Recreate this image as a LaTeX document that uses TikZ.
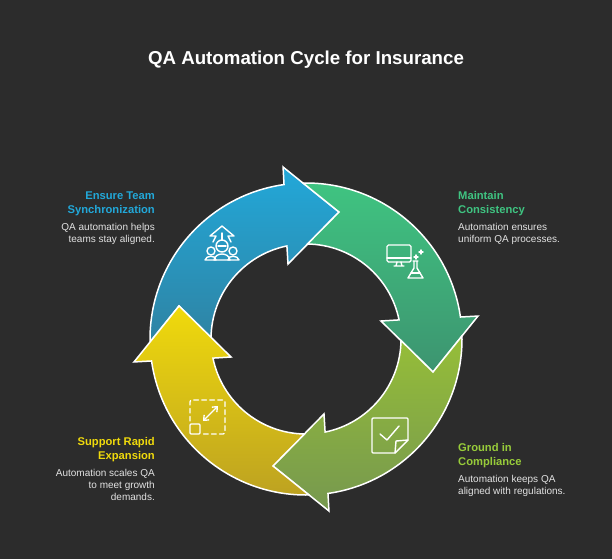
\documentclass[tikz,border=0pt]{standalone}
\usepackage{fontspec}
\setmainfont{Liberation Sans}
\usepackage{tikz}
\usetikzlibrary{positioning,arrows.meta}
\definecolor{bgdark}{HTML}{2C2C2C}
\definecolor{blueTop}{HTML}{22A8D9}
\definecolor{blueBot}{HTML}{2F83A3}
\definecolor{greenTop}{HTML}{3FC481}
\definecolor{greenBot}{HTML}{3D9470}
\definecolor{limeTop}{HTML}{96BE38}
\definecolor{limeBot}{HTML}{76984F}
\definecolor{limeText}{HTML}{98CC3A}
\definecolor{yellowTop}{HTML}{F0DA0C}
\definecolor{yellowBot}{HTML}{BDA221}
\definecolor{bodygray}{HTML}{E2E2E2}
\tikzset{
  ringarrow/.style={draw=white, line width=1.5pt, miter limit=10},
  headtext/.style={font=\bfseries\fontsize{11.2}{14}\selectfont, align=#1, inner sep=0pt},
  bodytext/.style={font=\fontsize{10}{12.2}\selectfont, align=#1, inner sep=0pt, text=bodygray},
  icon/.style={draw=white, line width=1.4pt, line cap=round, line join=round}
}
% one arrow of the ring, turned by #1 degrees
\newcommand{\ringpiece}[3]{
  \draw[ringarrow, top color=#2, bottom color=#3]
    ({#1+98.1}:156) -- ({#1+97.6}:173.5) -- ({#1+75.4}:131.2) -- ({#1+103.5}:77.1)
    -- ({#1+101.6}:95) arc[start angle={#1+101.6}, end angle={#1+179.1}, radius=95]
    -- ({#1+165.4}:131.2) -- ({#1+181.1}:156)
    arc[start angle={#1+181.1}, end angle={#1+98.1}, radius=156] -- cycle;
}
\begin{document}
\begin{tikzpicture}[x=1pt, y=-1pt]
    \fill[bgdark] (0,0) rectangle (612,559);
    \useasboundingbox (0,0) rectangle (612,559);

    \node[text=white, font=\bfseries\fontsize{18.7}{22}\selectfont] (mainTitle) at (306,60) {QA Automation Cycle for Insurance};

    % ring
    \begin{scope}[shift={(306,339)}, x=1pt, y=1pt]
        \ringpiece{0}{blueTop}{blueBot}
        \ringpiece{-90}{greenTop}{greenBot}
        \ringpiece{-180}{limeTop}{limeBot}
        \ringpiece{-270}{yellowTop}{yellowBot}
    \end{scope}

    % team icon
    \draw[icon] (222,226) -- (210,236) -- (216,236) -- (213,242) (222,226) -- (234,236) -- (228,236) -- (231,242);
    \draw[icon] (222,233) -- (222,240);
    \draw[icon] (222,246) circle (6);
    \draw[icon] (218,246) -- (226,246);
    \draw[icon] (211,251) circle (4);
    \draw[icon] (233,251) circle (4);
    \draw[icon] (205,260) .. controls (206,255) and (216,255) .. (216,260) -- (205,260);
    \draw[icon] (239,260) .. controls (238,255) and (228,255) .. (228,260) -- (239,260);
    \draw[icon] (214,260) .. controls (215,252) and (229,252) .. (230,260) -- (214,260);

    % monitor and flask icon
    \draw[icon, rounded corners=1.5pt] (387,245) rectangle (411,262);
    \draw[icon] (387,258) -- (411,258);
    \draw[icon] (397,262) -- (396,266) (401,262) -- (402,266) (394,266) -- (404,266);
    \draw[icon] (413,261) -- (418,261) (414,261) -- (414,268) -- (408,278) -- (423,278) -- (417,268) -- (417,261);
    \draw[icon] (411,273) -- (420,273);
    \draw[icon] (416,255) -- (416,259) (414,257) -- (418,257);
    \draw[icon] (421,250) -- (421,254) (419,252) -- (423,252);

    % checked note icon
    \draw[icon] (395,453) -- (373,453) -- (372,452) -- (372,419) -- (373,418) -- (407,418) -- (408,419) -- (408,440) -- cycle;
    \draw[icon] (408,440) -- (396,441) -- (395,453);
    \draw[icon] (380,434) -- (387,440) -- (399,426);

    % expand icon
    \draw[icon, dash pattern=on 4.5pt off 3.5pt, rounded corners=2pt] (190,421) -- (190,400) -- (225,400) -- (225,434) -- (203,434);
    \draw[icon, rounded corners=1pt] (190,424) rectangle (200,434);
    \draw[icon, {Straight Barb[length=4pt,width=7pt]}-{Straight Barb[length=4pt,width=7pt]}] (203,421) -- (218,406);

    % labels
    \node[headtext=right, text=blueTop, anchor=north east] (syncHead) at (155,191.5) {Ensure Team\\Synchronization};
    \node[bodytext=right, anchor=north east] (syncBody) at (155,223) {QA automation helps\\teams stay aligned.};
    \node[headtext=left, text=greenTop, anchor=north west] (consHead) at (458,191.5) {Maintain\\Consistency};
    \node[bodytext=left, anchor=north west] (consBody) at (458,223) {Automation ensures\\uniform QA processes.};
    \node[headtext=right, text=yellowTop, anchor=north east] (expHead) at (155,437) {Support Rapid\\Expansion};
    \node[bodytext=right, anchor=north east] (expBody) at (155,469) {Automation scales QA\\to meet growth\\demands.};
    \node[headtext=left, text=limeText, anchor=north west] (compHead) at (458,443) {Ground in\\Compliance};
    \node[bodytext=left, anchor=north west] (compBody) at (458,475) {Automation keeps QA\\aligned with regulations.};
\end{tikzpicture}
\end{document}
